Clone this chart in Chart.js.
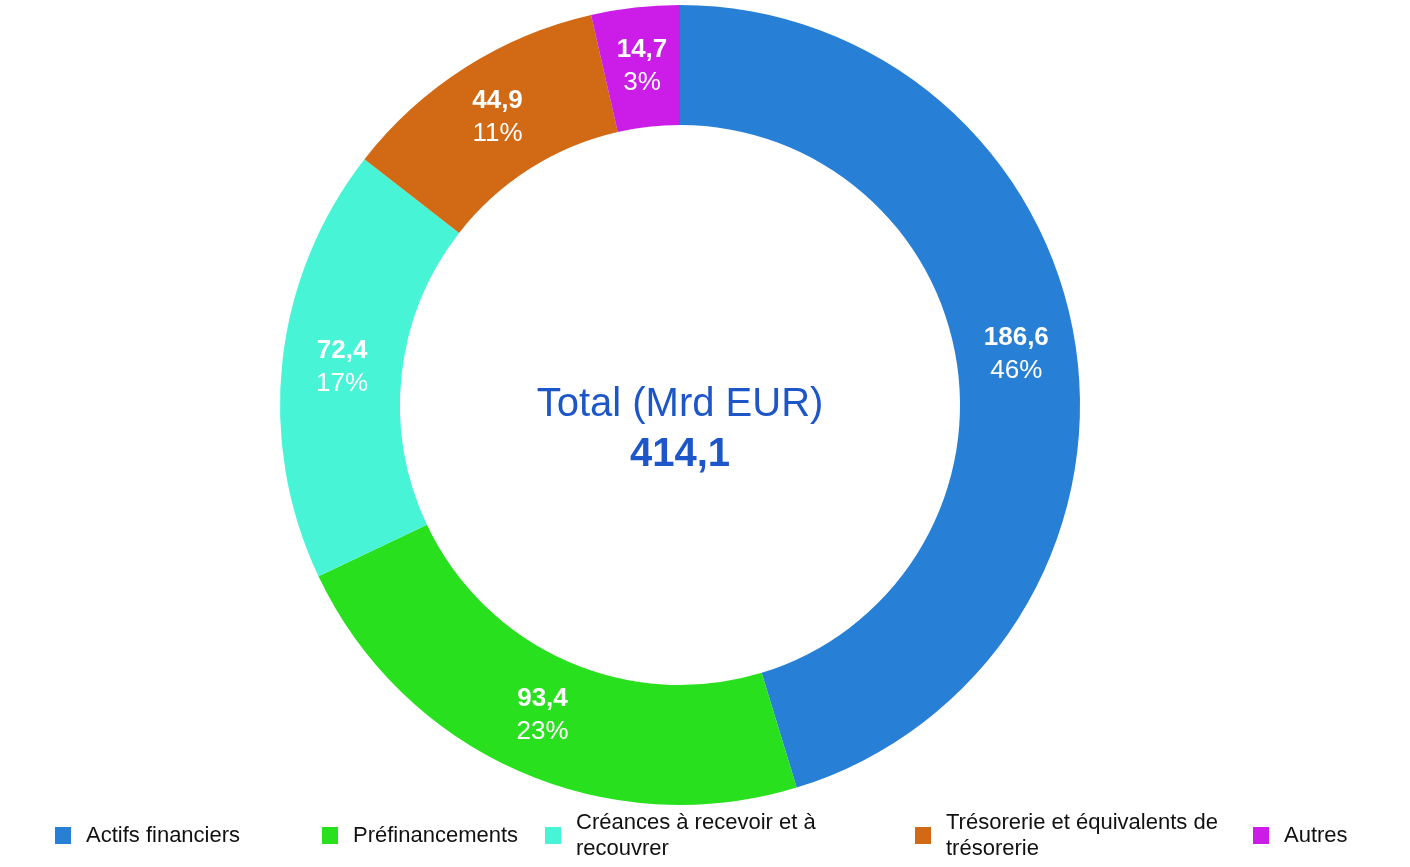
<!DOCTYPE html>
<html lang="fr">
<head>
<meta charset="UTF-8">
<title>Total (Mrd EUR)</title>
<script src="https://cdn.jsdelivr.net/npm/chart.js@4/dist/chart.umd.min.js"></script>
<style>
  html, body { margin: 0; padding: 0; background: #fff; }
  .wrap { position: relative; width: 1410px; height: 867px; }
  .legend-item {
    position: absolute; top: 835px; transform: translateY(-50%);
    display: flex; align-items: center;
    font-family: "Liberation Sans", Arial, Helvetica, sans-serif;
    font-size: 22px; line-height: 26px; color: #111;
  }
  .legend-item .box { width: 16px; height: 17px; flex: none; margin-right: 15px; }
</style>
</head>
<body>
<div class="wrap">
  <canvas id="myChart" width="1410" height="867"></canvas>
  <div id="legend"></div>
</div>
<script>
// data
const labels = [
  ['Actifs financiers'],
  ['Préfinancements'],
  ['Créances à recevoir et à', 'recouvrer'],
  ['Trésorerie et équivalents de', 'trésorerie'],
  ['Autres']
];
const values = [186.6, 93.4, 72.4, 44.9, 14.7];
const shares = [46, 23, 17, 11, 3];
const total = 414.1;
const centerTitle = 'Total (Mrd EUR)';

// styles
const colors = ['#277fd6', '#28e01e', '#48f4d6', '#d26914', '#cb1ce8'];
const legendLeft = [55, 322, 545, 915, 1253];
const fontFamily = '"Liberation Sans", Arial, Helvetica, sans-serif';

function fmt(v) {
  return v.toFixed(1).replace('.', ',');
}

const labelPlugin = {
  id: 'segmentLabels',
  afterDatasetsDraw(chart) {
    const ctx = chart.ctx;
    const meta = chart.getDatasetMeta(0);
    ctx.save();
    ctx.textAlign = 'center';
    ctx.textBaseline = 'middle';
    ctx.fillStyle = '#ffffff';
    meta.data.forEach(function (arc, i) {
      const p = arc.tooltipPosition();
      ctx.font = 'bold 26px ' + fontFamily;
      ctx.fillText(fmt(values[i]), p.x, p.y - 17);
      ctx.font = '26px ' + fontFamily;
      ctx.fillText(shares[i] + '%', p.x, p.y + 16);
    });
    // centre text
    const arc0 = meta.data[0];
    ctx.fillStyle = '#1d56c8';
    ctx.font = '40px ' + fontFamily;
    ctx.fillText(centerTitle, arc0.x, arc0.y);
    ctx.font = 'bold 40px ' + fontFamily;
    ctx.fillText(fmt(total), arc0.x, arc0.y + 50);
    ctx.restore();
  }
};

const ctx = document.getElementById('myChart').getContext('2d');
const myChart = new Chart(ctx, {
  type: 'doughnut',
  data: {
    labels: labels.map(l => l.join(' ')),
    datasets: [{
      data: values,
      backgroundColor: colors,
      borderWidth: 0
    }]
  },
  options: {
    responsive: false,
    animation: false,
    cutout: '70%',
    layout: { padding: { left: 0, right: 50, top: 5, bottom: 62 } },
    plugins: {
      legend: { display: false },
      tooltip: { enabled: false }
    }
  },
  plugins: [labelPlugin]
});

// html legend
const legendEl = document.getElementById('legend');
labels.forEach(function (lines, i) {
  const item = document.createElement('div');
  item.className = 'legend-item';
  item.style.left = legendLeft[i] + 'px';
  const box = document.createElement('span');
  box.className = 'box';
  box.style.background = colors[i];
  const txt = document.createElement('span');
  txt.innerHTML = lines.join('<br>');
  item.appendChild(box);
  item.appendChild(txt);
  legendEl.appendChild(item);
});
</script>
</body>
</html>
